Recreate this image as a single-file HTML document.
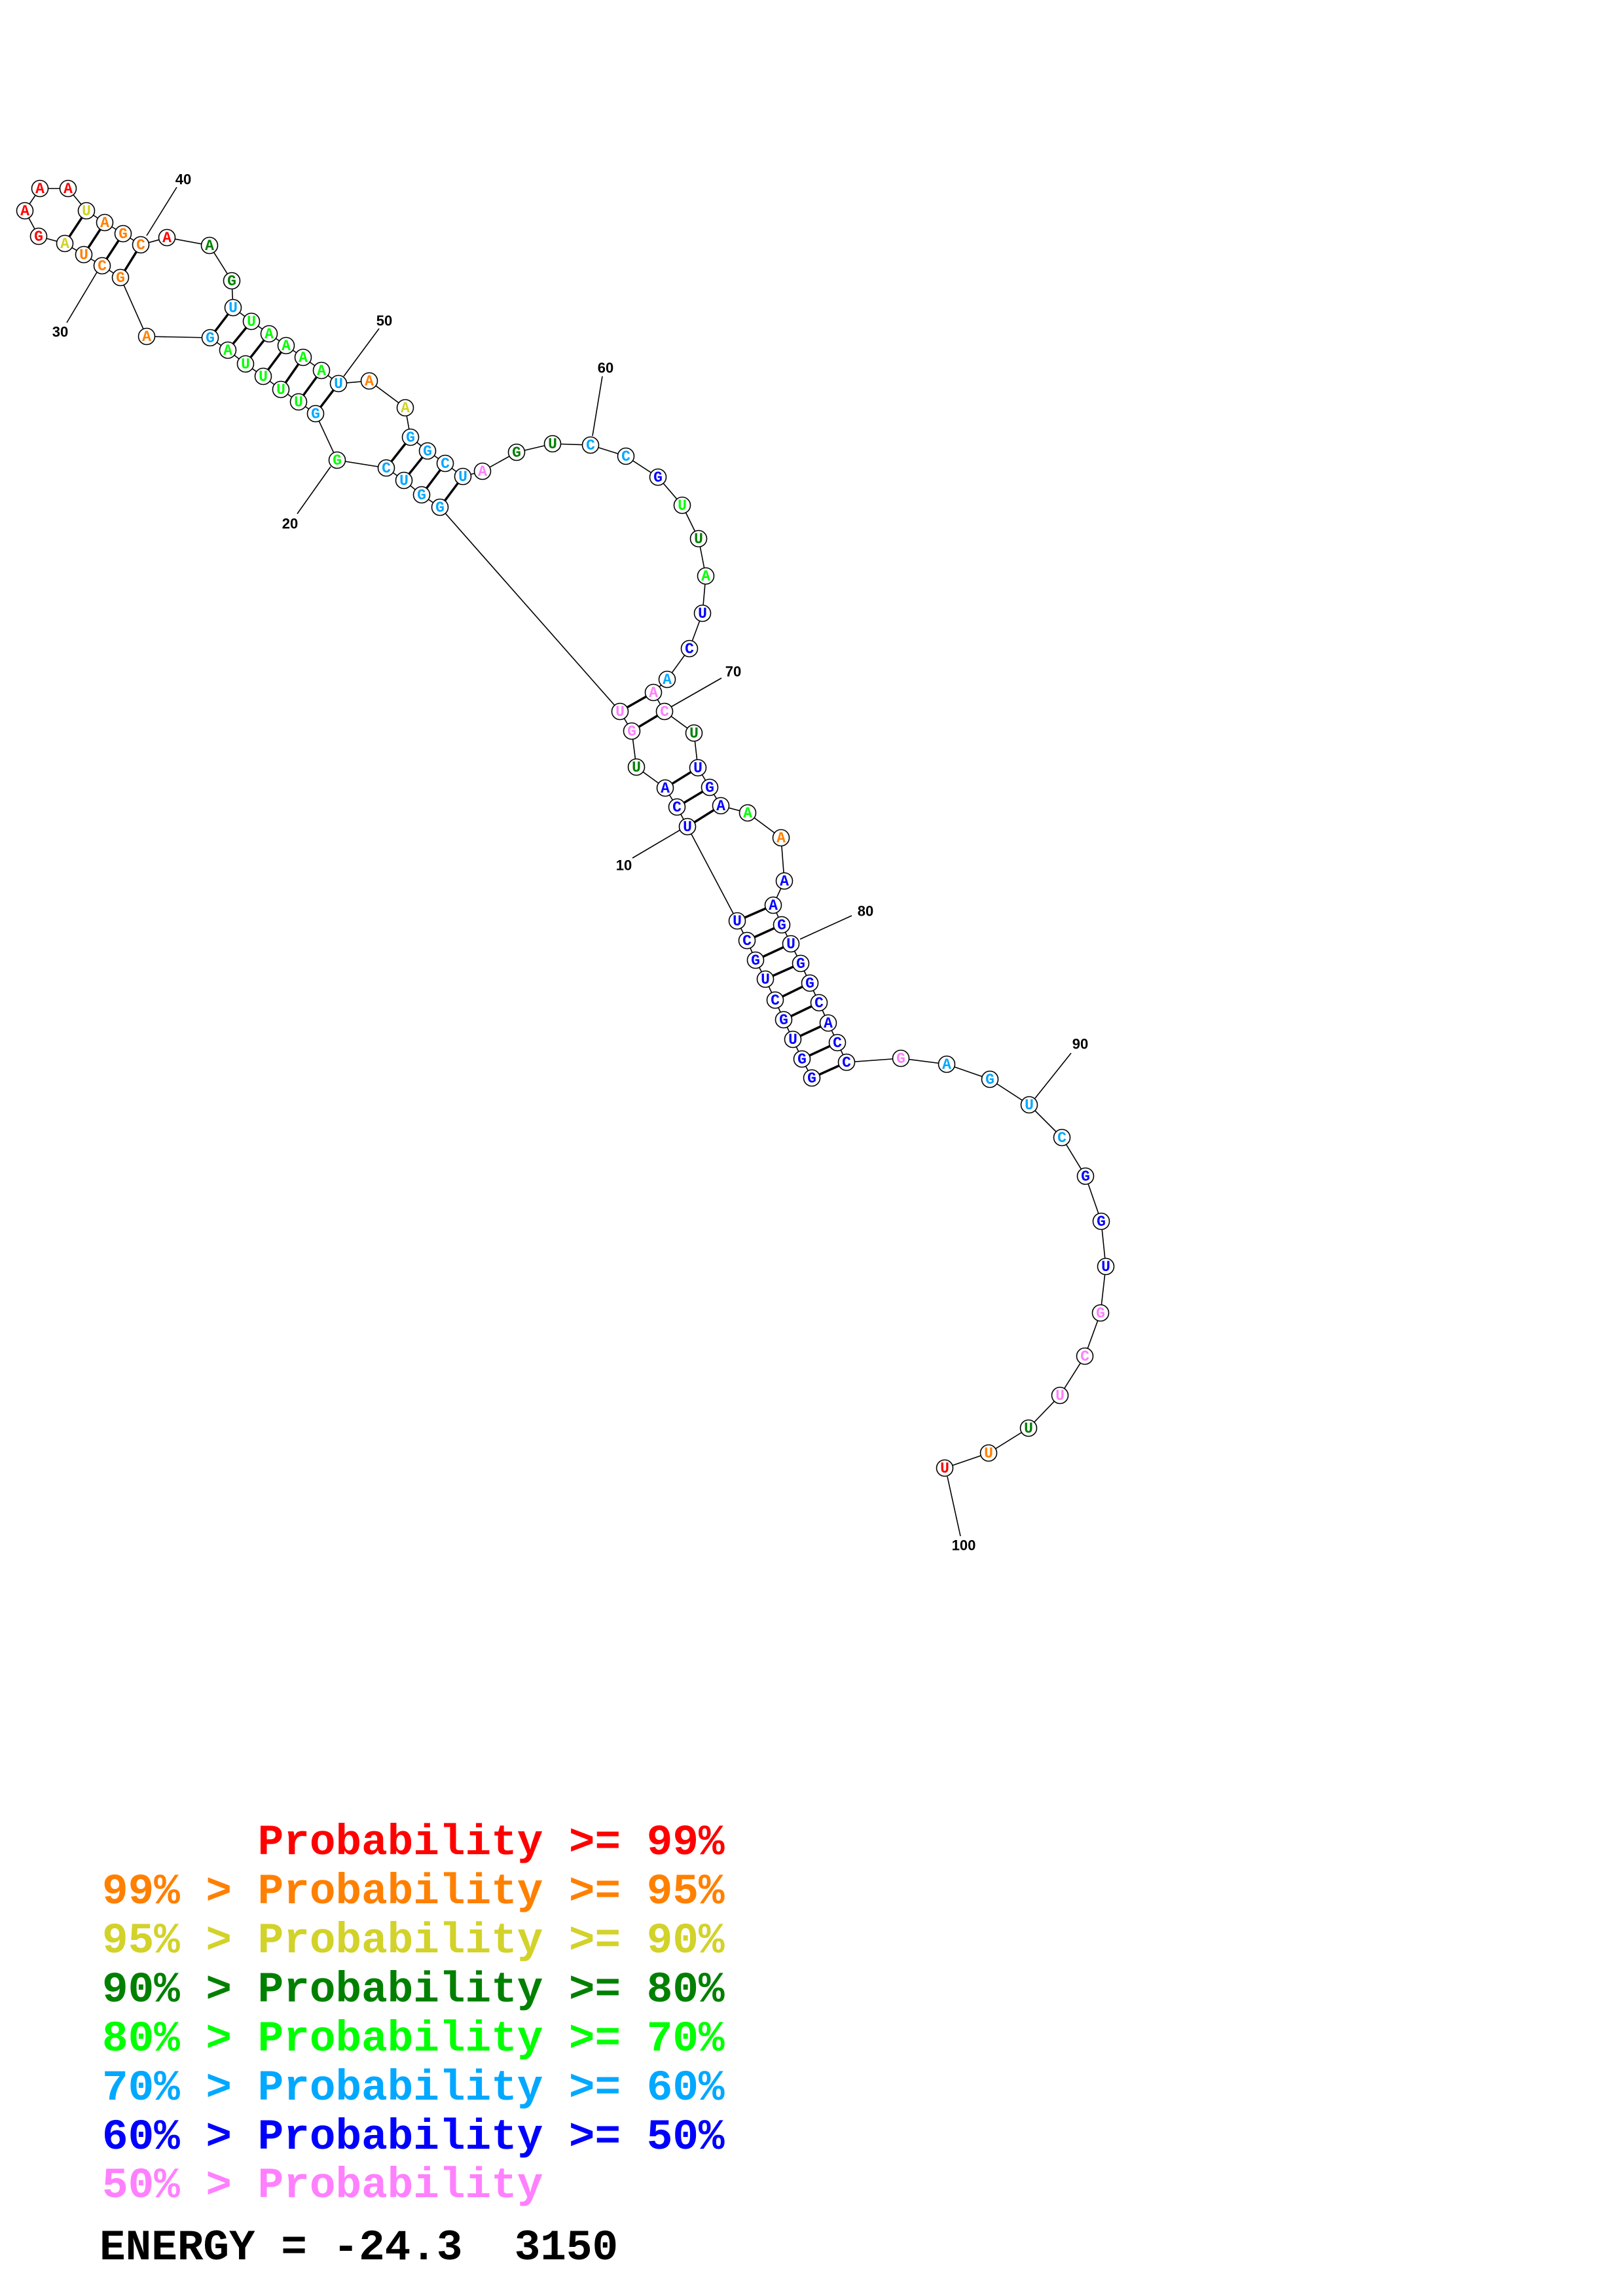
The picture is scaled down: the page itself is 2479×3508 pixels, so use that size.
<!DOCTYPE html>
<html><head><meta charset="utf-8"><style>
html,body{margin:0;padding:0;background:#fff}
svg{display:block}
.b{stroke:#000;stroke-width:1.6;fill:none}
.p{stroke:#000;stroke-width:3.5}
circle{fill:#fff;stroke:#000;stroke-width:1.6}
.n{font-family:"Liberation Mono",monospace;font-weight:bold;font-size:23px;text-anchor:middle;dominant-baseline:central}
.l{font-family:"Liberation Sans",sans-serif;font-weight:bold;font-size:22px;text-anchor:middle;dominant-baseline:central}
.g{font-family:"Liberation Mono",monospace;font-weight:bold;font-size:66px}
.R{fill:#ff0000}.O{fill:#ff8000}.Y{fill:#d2d22a}.D{fill:#008000}.G{fill:#00ff00}.S{fill:#00a8ff}.B{fill:#0000ff}.P{fill:#ff80ff}
</style></head><body>
<svg width="2479" height="3508" viewBox="0 0 2479 3508" xmlns="http://www.w3.org/2000/svg">
<!-- backbone -->
<polyline class="b" points="1240,1647 1225,1618 1211,1588 1197,1558 1184,1528 1169,1496 1154,1467 1141,1437 1126,1407 1050,1263 1034,1233 1016,1204 972,1172 965,1117 947,1087 672,775 644,756 617,734 590,715 515,703 482,632 456,614 429,595 402,575 375,556 348,535 321,516 224,514 184,424 156,406 128,389 99,372 59,361 38,322 61,288 104,288 132,322 160,340 188,357 215,374 255,363 320,375 354,429 356,470 384,491 411,510 437,528 463,546 491,566 517,586 564,582 619,623 627,668 653,689 680,708 707,728 737,720 789,691 844,678 902,680 956,697 1005,729 1042,772 1067,823 1078,880 1073,937 1053,991 1019,1038 998,1058 1015,1087 1060,1120 1066,1173 1084,1203 1101,1231 1142,1242 1193,1280 1198,1346 1181,1383 1194,1413 1208,1442 1223,1472 1237,1502 1251,1532 1265,1563 1279,1593 1293,1623 1376,1617 1446,1626 1512,1649 1572,1688 1622,1738 1658,1797 1682,1866 1689,1935 1681,2006 1657,2072 1619,2132 1571,2182 1510,2220 1443,2243"/>
<!-- label ticks -->
<line class="b" x1="1039" y1="1268" x2="966" y2="1311"/>
<line class="b" x1="505" y1="713" x2="454" y2="785"/>
<line class="b" x1="148" y1="416" x2="102" y2="493"/>
<line class="b" x1="224" y1="360" x2="270" y2="286"/>
<line class="b" x1="525" y1="575" x2="579" y2="502"/>
<line class="b" x1="905" y1="666" x2="920" y2="575"/>
<line class="b" x1="1025" y1="1080" x2="1102" y2="1036"/>
<line class="b" x1="1222" y1="1435" x2="1301" y2="1399"/>
<line class="b" x1="1581" y1="1678" x2="1636" y2="1609"/>
<line class="b" x1="1447" y1="2256" x2="1467" y2="2347"/>
<!-- pairs -->
<g class="p">
<line x1="1240" y1="1647" x2="1293" y2="1623"/>
<line x1="1225" y1="1618" x2="1279" y2="1593"/>
<line x1="1211" y1="1588" x2="1265" y2="1563"/>
<line x1="1197" y1="1558" x2="1251" y2="1532"/>
<line x1="1184" y1="1528" x2="1237" y2="1502"/>
<line x1="1169" y1="1496" x2="1223" y2="1472"/>
<line x1="1154" y1="1467" x2="1208" y2="1442"/>
<line x1="1141" y1="1437" x2="1194" y2="1413"/>
<line x1="1126" y1="1407" x2="1181" y2="1383"/>
<line x1="1050" y1="1263" x2="1101" y2="1231"/>
<line x1="1034" y1="1233" x2="1084" y2="1203"/>
<line x1="1016" y1="1204" x2="1066" y2="1173"/>
<line x1="965" y1="1117" x2="1015" y2="1087"/>
<line x1="947" y1="1087" x2="998" y2="1058"/>
<line x1="672" y1="775" x2="707" y2="728"/>
<line x1="644" y1="756" x2="680" y2="708"/>
<line x1="617" y1="734" x2="653" y2="689"/>
<line x1="590" y1="715" x2="627" y2="668"/>
<line x1="482" y1="632" x2="517" y2="586"/>
<line x1="456" y1="614" x2="491" y2="566"/>
<line x1="429" y1="595" x2="463" y2="546"/>
<line x1="402" y1="575" x2="437" y2="528"/>
<line x1="375" y1="556" x2="411" y2="510"/>
<line x1="348" y1="535" x2="384" y2="491"/>
<line x1="321" y1="516" x2="356" y2="470"/>
<line x1="184" y1="424" x2="215" y2="374"/>
<line x1="156" y1="406" x2="188" y2="357"/>
<line x1="128" y1="389" x2="160" y2="340"/>
<line x1="99" y1="372" x2="132" y2="322"/>
</g>
<!-- nodes -->
<g>
<circle cx="1240" cy="1647" r="12.5"/><text class="n B" x="1240" y="1648">G</text>
<circle cx="1225" cy="1618" r="12.5"/><text class="n B" x="1225" y="1619">G</text>
<circle cx="1211" cy="1588" r="12.5"/><text class="n B" x="1211" y="1589">U</text>
<circle cx="1197" cy="1558" r="12.5"/><text class="n B" x="1197" y="1559">G</text>
<circle cx="1184" cy="1528" r="12.5"/><text class="n B" x="1184" y="1529">C</text>
<circle cx="1169" cy="1496" r="12.5"/><text class="n B" x="1169" y="1497">U</text>
<circle cx="1154" cy="1467" r="12.5"/><text class="n B" x="1154" y="1468">G</text>
<circle cx="1141" cy="1437" r="12.5"/><text class="n B" x="1141" y="1438">C</text>
<circle cx="1126" cy="1407" r="12.5"/><text class="n B" x="1126" y="1408">U</text>
<circle cx="1050" cy="1263" r="12.5"/><text class="n B" x="1050" y="1264">U</text>
<circle cx="1034" cy="1233" r="12.5"/><text class="n B" x="1034" y="1234">C</text>
<circle cx="1016" cy="1204" r="12.5"/><text class="n B" x="1016" y="1205">A</text>
<circle cx="972" cy="1172" r="12.5"/><text class="n D" x="972" y="1173">U</text>
<circle cx="965" cy="1117" r="12.5"/><text class="n P" x="965" y="1118">G</text>
<circle cx="947" cy="1087" r="12.5"/><text class="n P" x="947" y="1088">U</text>
<circle cx="672" cy="775" r="12.5"/><text class="n S" x="672" y="776">G</text>
<circle cx="644" cy="756" r="12.5"/><text class="n S" x="644" y="757">G</text>
<circle cx="617" cy="734" r="12.5"/><text class="n S" x="617" y="735">U</text>
<circle cx="590" cy="715" r="12.5"/><text class="n S" x="590" y="716">C</text>
<circle cx="515" cy="703" r="12.5"/><text class="n G" x="515" y="704">G</text>
<circle cx="482" cy="632" r="12.5"/><text class="n S" x="482" y="633">G</text>
<circle cx="456" cy="614" r="12.5"/><text class="n G" x="456" y="615">U</text>
<circle cx="429" cy="595" r="12.5"/><text class="n G" x="429" y="596">U</text>
<circle cx="402" cy="575" r="12.5"/><text class="n G" x="402" y="576">U</text>
<circle cx="375" cy="556" r="12.5"/><text class="n G" x="375" y="557">U</text>
<circle cx="348" cy="535" r="12.5"/><text class="n G" x="348" y="536">A</text>
<circle cx="321" cy="516" r="12.5"/><text class="n S" x="321" y="517">G</text>
<circle cx="224" cy="514" r="12.5"/><text class="n O" x="224" y="515">A</text>
<circle cx="184" cy="424" r="12.5"/><text class="n O" x="184" y="425">G</text>
<circle cx="156" cy="406" r="12.5"/><text class="n O" x="156" y="407">C</text>
<circle cx="128" cy="389" r="12.5"/><text class="n O" x="128" y="390">U</text>
<circle cx="99" cy="372" r="12.5"/><text class="n Y" x="99" y="373">A</text>
<circle cx="59" cy="361" r="12.5"/><text class="n R" x="59" y="362">G</text>
<circle cx="38" cy="322" r="12.5"/><text class="n R" x="38" y="323">A</text>
<circle cx="61" cy="288" r="12.5"/><text class="n R" x="61" y="289">A</text>
<circle cx="104" cy="288" r="12.5"/><text class="n R" x="104" y="289">A</text>
<circle cx="132" cy="322" r="12.5"/><text class="n Y" x="132" y="323">U</text>
<circle cx="160" cy="340" r="12.5"/><text class="n O" x="160" y="341">A</text>
<circle cx="188" cy="357" r="12.5"/><text class="n O" x="188" y="358">G</text>
<circle cx="215" cy="374" r="12.5"/><text class="n O" x="215" y="375">C</text>
<circle cx="255" cy="363" r="12.5"/><text class="n R" x="255" y="364">A</text>
<circle cx="320" cy="375" r="12.5"/><text class="n D" x="320" y="376">A</text>
<circle cx="354" cy="429" r="12.5"/><text class="n D" x="354" y="430">G</text>
<circle cx="356" cy="470" r="12.5"/><text class="n S" x="356" y="471">U</text>
<circle cx="384" cy="491" r="12.5"/><text class="n G" x="384" y="492">U</text>
<circle cx="411" cy="510" r="12.5"/><text class="n G" x="411" y="511">A</text>
<circle cx="437" cy="528" r="12.5"/><text class="n G" x="437" y="529">A</text>
<circle cx="463" cy="546" r="12.5"/><text class="n G" x="463" y="547">A</text>
<circle cx="491" cy="566" r="12.5"/><text class="n G" x="491" y="567">A</text>
<circle cx="517" cy="586" r="12.5"/><text class="n S" x="517" y="587">U</text>
<circle cx="564" cy="582" r="12.5"/><text class="n O" x="564" y="583">A</text>
<circle cx="619" cy="623" r="12.5"/><text class="n Y" x="619" y="624">A</text>
<circle cx="627" cy="668" r="12.5"/><text class="n S" x="627" y="669">G</text>
<circle cx="653" cy="689" r="12.5"/><text class="n S" x="653" y="690">G</text>
<circle cx="680" cy="708" r="12.5"/><text class="n S" x="680" y="709">C</text>
<circle cx="707" cy="728" r="12.5"/><text class="n S" x="707" y="729">U</text>
<circle cx="737" cy="720" r="12.5"/><text class="n P" x="737" y="721">A</text>
<circle cx="789" cy="691" r="12.5"/><text class="n D" x="789" y="692">G</text>
<circle cx="844" cy="678" r="12.5"/><text class="n D" x="844" y="679">U</text>
<circle cx="902" cy="680" r="12.5"/><text class="n S" x="902" y="681">C</text>
<circle cx="956" cy="697" r="12.5"/><text class="n S" x="956" y="698">C</text>
<circle cx="1005" cy="729" r="12.5"/><text class="n B" x="1005" y="730">G</text>
<circle cx="1042" cy="772" r="12.5"/><text class="n G" x="1042" y="773">U</text>
<circle cx="1067" cy="823" r="12.5"/><text class="n D" x="1067" y="824">U</text>
<circle cx="1078" cy="880" r="12.5"/><text class="n G" x="1078" y="881">A</text>
<circle cx="1073" cy="937" r="12.5"/><text class="n B" x="1073" y="938">U</text>
<circle cx="1053" cy="991" r="12.5"/><text class="n B" x="1053" y="992">C</text>
<circle cx="1019" cy="1038" r="12.5"/><text class="n S" x="1019" y="1039">A</text>
<circle cx="998" cy="1058" r="12.5"/><text class="n P" x="998" y="1059">A</text>
<circle cx="1015" cy="1087" r="12.5"/><text class="n P" x="1015" y="1088">C</text>
<circle cx="1060" cy="1120" r="12.5"/><text class="n D" x="1060" y="1121">U</text>
<circle cx="1066" cy="1173" r="12.5"/><text class="n B" x="1066" y="1174">U</text>
<circle cx="1084" cy="1203" r="12.5"/><text class="n B" x="1084" y="1204">G</text>
<circle cx="1101" cy="1231" r="12.5"/><text class="n B" x="1101" y="1232">A</text>
<circle cx="1142" cy="1242" r="12.5"/><text class="n G" x="1142" y="1243">A</text>
<circle cx="1193" cy="1280" r="12.5"/><text class="n O" x="1193" y="1281">A</text>
<circle cx="1198" cy="1346" r="12.5"/><text class="n B" x="1198" y="1347">A</text>
<circle cx="1181" cy="1383" r="12.5"/><text class="n B" x="1181" y="1384">A</text>
<circle cx="1194" cy="1413" r="12.5"/><text class="n B" x="1194" y="1414">G</text>
<circle cx="1208" cy="1442" r="12.5"/><text class="n B" x="1208" y="1443">U</text>
<circle cx="1223" cy="1472" r="12.5"/><text class="n B" x="1223" y="1473">G</text>
<circle cx="1237" cy="1502" r="12.5"/><text class="n B" x="1237" y="1503">G</text>
<circle cx="1251" cy="1532" r="12.5"/><text class="n B" x="1251" y="1533">C</text>
<circle cx="1265" cy="1563" r="12.5"/><text class="n B" x="1265" y="1564">A</text>
<circle cx="1279" cy="1593" r="12.5"/><text class="n B" x="1279" y="1594">C</text>
<circle cx="1293" cy="1623" r="12.5"/><text class="n B" x="1293" y="1624">C</text>
<circle cx="1376" cy="1617" r="12.5"/><text class="n P" x="1376" y="1618">G</text>
<circle cx="1446" cy="1626" r="12.5"/><text class="n S" x="1446" y="1627">A</text>
<circle cx="1512" cy="1649" r="12.5"/><text class="n S" x="1512" y="1650">G</text>
<circle cx="1572" cy="1688" r="12.5"/><text class="n S" x="1572" y="1689">U</text>
<circle cx="1622" cy="1738" r="12.5"/><text class="n S" x="1622" y="1739">C</text>
<circle cx="1658" cy="1797" r="12.5"/><text class="n B" x="1658" y="1798">G</text>
<circle cx="1682" cy="1866" r="12.5"/><text class="n B" x="1682" y="1867">G</text>
<circle cx="1689" cy="1935" r="12.5"/><text class="n B" x="1689" y="1936">U</text>
<circle cx="1681" cy="2006" r="12.5"/><text class="n P" x="1681" y="2007">G</text>
<circle cx="1657" cy="2072" r="12.5"/><text class="n P" x="1657" y="2073">C</text>
<circle cx="1619" cy="2132" r="12.5"/><text class="n P" x="1619" y="2133">U</text>
<circle cx="1571" cy="2182" r="12.5"/><text class="n D" x="1571" y="2183">U</text>
<circle cx="1510" cy="2220" r="12.5"/><text class="n O" x="1510" y="2221">U</text>
<circle cx="1443" cy="2243" r="12.5"/><text class="n R" x="1443" y="2244">U</text>
</g>
<!-- numbers -->
<text class="l" x="953" y="1322">10</text>
<text class="l" x="443" y="800">20</text>
<text class="l" x="92" y="507">30</text>
<text class="l" x="280" y="274">40</text>
<text class="l" x="587" y="490">50</text>
<text class="l" x="925" y="562">60</text>
<text class="l" x="1120" y="1026">70</text>
<text class="l" x="1322" y="1392">80</text>
<text class="l" x="1650" y="1595">90</text>
<text class="l" x="1472" y="2361">100</text>
<!-- legend -->
<text class="g" x="156" y="2833" xml:space="preserve"><tspan class="R">      Probability &gt;= 99%</tspan></text>
<text class="g O" x="156" y="2908" xml:space="preserve">99% &gt; Probability &gt;= 95%</text>
<text class="g Y" x="156" y="2983" xml:space="preserve">95% &gt; Probability &gt;= 90%</text>
<text class="g D" x="156" y="3058" xml:space="preserve">90% &gt; Probability &gt;= 80%</text>
<text class="g G" x="156" y="3133" xml:space="preserve">80% &gt; Probability &gt;= 70%</text>
<text class="g S" x="156" y="3208" xml:space="preserve">70% &gt; Probability &gt;= 60%</text>
<text class="g B" x="156" y="3283" xml:space="preserve">60% &gt; Probability &gt;= 50%</text>
<text class="g P" x="156" y="3357" xml:space="preserve">50% &gt; Probability</text>
<text class="g" x="152" y="3452" fill="#000" xml:space="preserve">ENERGY = -24.3  3150</text>
</svg>
</body></html>
